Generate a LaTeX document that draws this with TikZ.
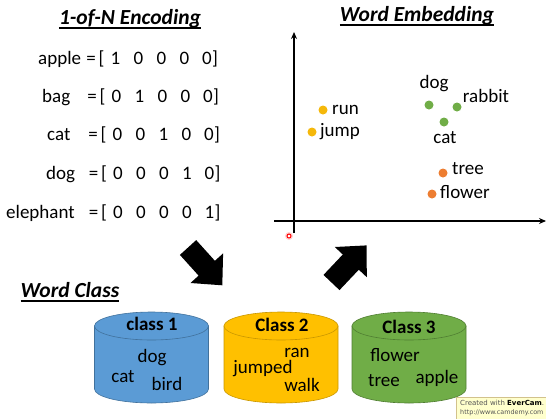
\documentclass[tikz,border=0pt]{standalone}
\usepackage{fontspec}
\setmainfont{Carlito}
\newfontfamily\wmfont{DejaVu Sans}
\usetikzlibrary{arrows.meta}
\definecolor{cgold}{HTML}{FFC000}
\definecolor{cgoldd}{HTML}{C99700}
\definecolor{cblue}{HTML}{5B9BD5}
\definecolor{cblued}{HTML}{41719C}
\definecolor{cgreen}{HTML}{70AD47}
\definecolor{cgreend}{HTML}{507E32}
\definecolor{corange}{HTML}{ED7D31}
\definecolor{cdot}{HTML}{F5B80A}
\definecolor{wmfill}{HTML}{FFFFCC}
\definecolor{wmdraw}{HTML}{D2C28C}
\definecolor{wmtext}{HTML}{555555}
\tikzset{
  txt/.style={font=\fontsize{19}{22}\selectfont, inner sep=0pt},
  low/.style={yshift=-2.5pt},
  ttl/.style={font=\fontsize{21.5}{24}\selectfont\bfseries\itshape, inner sep=0pt, anchor=base},
  cls/.style={font=\fontsize{19}{22}\selectfont\bfseries, inner sep=0pt},
  uline/.style={line width=1.4pt},
  axis/.style={line width=1.5pt, -{Stealth[length=7pt,width=6pt]}},
  pt/.style={circle, inner sep=0pt, minimum size=9pt},
  blockarrow/.style={fill=black},
  cylbody/.style={line width=0.6pt},
  wmt/.style={font=\wmfont\fontsize{7}{9}\selectfont, text=wmtext, anchor=base west, inner sep=0pt},
}
\begin{document}
\begin{tikzpicture}[x=1pt,y=-1pt]
\useasboundingbox (0,0) rectangle (546,418);
\clip (0,0) rectangle (546,418);

% ---- Titles ----
\node[ttl] (t1) at (130,24) {1-of-N Encoding};
\draw[uline] ([yshift=-4pt]t1.base west) -- ([yshift=-4pt]t1.base east);
\node[ttl] (t2) at (417,21) {Word Embedding};
\draw[uline] ([yshift=-4pt]t2.base west) -- ([yshift=-4pt]t2.base east);
\node[ttl] (t3) at (70,297) {Word Class};
\draw[uline] ([yshift=-4pt]t3.base west) -- ([yshift=-4pt]t3.base east);

% ---- 1-of-N rows ----
\foreach \w/\wx/\y/\s/\da/\db/\dc/\dd/\de [count=\i] in {
  apple/38/60/0/1/0/0/0/0,
  bag/42/98/1/0/1/0/0/0,
  cat/47/136/2/0/0/1/0/0,
  dog/46/175/2.5/0/0/0/1/0,
  elephant/6/214/2.5/0/0/0/0/1}{
  \node[txt, low, anchor=mid west] (w\i) at (\wx,\y) {\w};
  \node[txt, low, anchor=mid] (eq\i) at (91+\s,\y) {=};
  \node[txt, low, anchor=mid] (lb\i) at (101.5+\s,\y) {[};
  \node[txt, low, anchor=mid] (da\i) at (115.5+\s,\y) {\da};
  \node[txt, low, anchor=mid] (db\i) at (138.5+\s,\y) {\db};
  \node[txt, low, anchor=mid] (dc\i) at (161.5+\s,\y) {\dc};
  \node[txt, low, anchor=mid] (dd\i) at (184.5+\s,\y) {\dd};
  \node[txt, low, anchor=mid] (de\i) at (207+\s,\y) {\de};
  \node[txt, anchor=mid west] (rb\i) at (de\i.mid east) {]};
}

% ---- Embedding axes ----
\coordinate (o1) at (294,233);
\coordinate (yt) at (294,32);
\coordinate (o2) at (274,221);
\coordinate (xt) at (546,221);
\draw[axis] (o1) -- (yt);
\draw[axis] (o2) -- (xt);

% ---- Embedding points ----
\node[pt, fill=cdot] (prun) at (323,110) {};
\node[txt, low, anchor=mid west] (lrun) at (332,110) {run};
\node[pt, fill=cdot] (pjump) at (312,132) {};
\node[txt, low, anchor=mid west] (ljump) at (320,132) {jump};

\node[pt, fill=cgreen] (pdog) at (429,105) {};
\node[pt, fill=cgreen] (prab) at (457,107) {};
\node[pt, fill=cgreen] (pcat) at (444,122) {};
\node[txt] (ldog) at (434,84) {dog};
\node[txt] (lrab) at (486,96) {rabbit};
\node[txt] (lcat) at (445,138) {cat};

\node[pt, fill=corange] (ptree) at (443,173) {};
\node[txt, low, anchor=mid west] (ltree) at (452,170) {tree};
\node[pt, fill=corange] (pflow) at (432,194) {};
\node[txt, low, anchor=mid west] (lflow) at (440,194) {flower};

% cursor mark
\node[circle, inner sep=0pt, minimum size=8pt, fill=red!25, opacity=0.7] (cur) at (289,236) {};
\node[circle, inner sep=0pt, minimum size=4pt, draw=red, line width=1pt, fill=white] (curi) at (289,236) {};

% ---- Block arrows ----
\fill[blockarrow] (179.9,254.9) -- (196.2,240.1) -- (214.9,260.8) -- (223.1,253.4)
  -- (222.3,285.3) -- (190.5,283.0) -- (198.6,275.6) -- cycle;
\fill[blockarrow] (339.5,290.1) -- (323.5,274.9) -- (342.8,254.5) -- (334.8,247.0)
  -- (366.6,245.4) -- (366.8,277.2) -- (358.8,269.7) -- cycle;

% ---- Cylinders ----
\foreach \cx/\fc/\dc [count=\k] in {151.5/cblue/cblued, 281/cgold/cgoldd, 409/cgreen/cgreend}{
  \path[cylbody, fill=\fc, draw=\dc] (\cx-57,326) -- (\cx-57,389)
     arc[start angle=180, end angle=0, x radius=57, y radius=14] -- (\cx+57,326) -- cycle;
  \path[cylbody, fill=\fc, draw=\dc] (\cx,326) ellipse [x radius=57, y radius=14];
}
\node[cls] (c1) at (152,324) {class 1};
\node[txt] (c1a) at (152,358) {dog};
\node[txt] (c1b) at (123,377) {cat};
\node[txt] (c1c) at (167,384) {bird};

\node[cls] (c2) at (282,325) {Class 2};
\node[txt] (c2a) at (297,353) {ran};
\node[txt] (c2b) at (263,369) {jumped};
\node[txt] (c2c) at (302,385) {walk};

\node[cls] (c3) at (409,327) {Class 3};
\node[txt] (c3a) at (395,355) {flower};
\node[txt] (c3b) at (384,381) {tree};
\node[txt] (c3c) at (437,378) {apple};

% ---- Watermark ----
\node[draw=wmdraw, fill=wmfill, line width=0.6pt, anchor=north west, minimum width=100pt, minimum height=30pt] (wm) at (456,397) {};
\node[wmt] (wm1) at (460,405.5) {Created with \textbf{\textcolor{black}{EverCam}}.};
\node[wmt, font=\wmfont\fontsize{6.4}{8}\selectfont] (wm2) at (460,414) {http://www.camdemy.com};
\end{tikzpicture}
\end{document}
